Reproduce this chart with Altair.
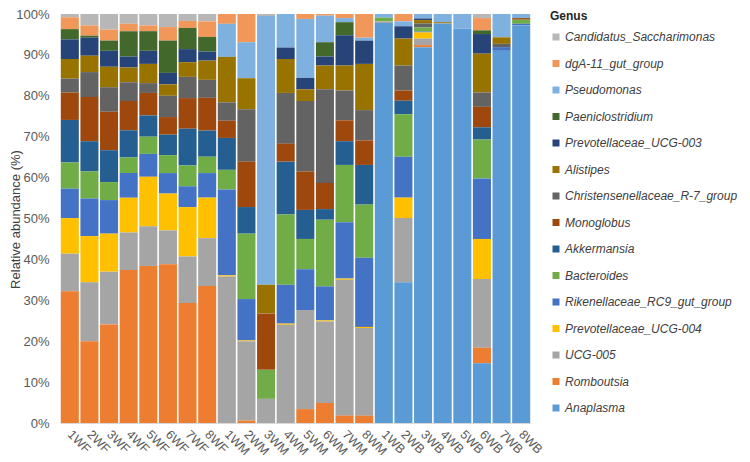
import altair as alt
import pandas as pd

samples = ["1WF", "2WF", "3WF", "4WF", "5WF", "6WF", "7WF", "8WF",
           "1WM", "2WM", "3WM", "4WM", "5WM", "6WM", "7WM", "8WM",
           "1WB", "2WB", "3WB", "4WB", "5WB", "6WB", "7WB", "8WB"]

# legend order (top of stack first)
genera = ["Candidatus_Saccharimonas", "dgA-11_gut_group", "Pseudomonas", "Paeniclostridium",
          "Prevotellaceae_UCG-003", "Alistipes", "Christensenellaceae_R-7_group", "Monoglobus",
          "Akkermansia", "Bacteroides", "Rikenellaceae_RC9_gut_group", "Prevotellaceae_UCG-004",
          "UCG-005", "Romboutsia", "Anaplasma"]

colors = ["#B7B7B7", "#F1975A", "#7EB1DF", "#43682B",
          "#264478", "#997300", "#636363", "#9E480E",
          "#255E91", "#70AD47", "#4472C4", "#FFC000",
          "#A5A5A5", "#ED7D31", "#5B9BD5"]

candidatus = [0.8, 2.8, 3.8, 2.4, 2.8, 3.2, 1.7, 1.8,
              0, 0, 0.5, 0, 0, 0, 0, 0,
              0, 0, 0, 0, 0, 1.0, 0, 0]
dga11 = [2.9, 2.5, 2.7, 1.8, 1.4, 3.3, 1.7, 3.8,
         2.4, 6.9, 0, 0, 1.2, 0.4, 1.0, 5.8,
         0, 1.8, 0, 0, 0, 3.0, 0, 0]
pseudomonas = [0, 0, 0, 0, 0, 0, 0, 0,
               8.1, 8.8, 65.7, 8.2, 14.4, 6.5, 1.0, 0.7,
               0.9, 1.2, 1.1, 2.0, 3.6, 0, 5.7, 1.0]
paeniclostridium = [2.5, 0.5, 2.5, 6.2, 4.8, 7.9, 5.2, 3.6,
                    0, 0, 0, 0, 0, 3.5, 3.2, 0,
                    0, 0, 0, 0, 0, 0.9, 0, 0]
prevotellaceae_003 = [4.8, 4.4, 3.9, 2.7, 3.2, 2.8, 3.2, 2.2,
                      0, 0, 0, 2.8, 2.8, 2.2, 7.4, 5.7,
                      0, 3.0, 0.4, 0, 0, 4.8, 0, 0]
alistipes = [4.8, 4.0, 5.0, 3.6, 4.7, 2.8, 3.6, 4.7,
             11.1, 7.6, 7.0, 8.3, 2.9, 5.8, 6.1, 11.3,
             0, 6.6, 0.8, 0.3, 0, 9.5, 1.6, 0]
christensenellaceae = [3.4, 6.1, 6.0, 4.6, 2.4, 5.2, 5.2, 4.4,
                       4.5, 12.8, 0, 12.4, 17.2, 22.9, 7.3, 7.4,
                       0, 6.1, 1.0, 0, 0, 3.5, 0.8, 0]
monoglobus = [6.7, 10.8, 9.4, 7.1, 5.5, 4.3, 7.5, 8.0,
              4.2, 11.1, 13.8, 4.4, 9.4, 6.4, 5.1, 6.0,
              0, 2.5, 0, 0, 0, 5.0, 0, 0.4]
akkermansia = [10.4, 7.4, 7.8, 6.7, 5.2, 5.0, 9.0, 6.4,
               7.8, 6.5, 0, 12.9, 7.1, 2.6, 5.8, 9.7,
               0, 3.3, 0, 0, 0, 3.0, 0, 0]
bacteroides = [6.4, 6.6, 4.4, 3.8, 4.2, 4.4, 5.1, 4.0,
               4.8, 16.0, 7.1, 17.2, 7.4, 16.3, 14.0, 13.0,
               0.9, 10.4, 1.0, 0, 0, 9.5, 0, 1.0]
rikenellaceae = [7.2, 9.2, 8.2, 6.0, 5.6, 5.0, 5.1, 6.0,
                 21.0, 10.1, 0, 9.5, 10.0, 8.3, 13.8, 16.9,
                 0, 10.0, 0.2, 0, 0, 14.8, 0.9, 0.4]
prevotellaceae_004 = [8.7, 11.3, 9.3, 8.5, 12.1, 9.0, 12.1, 9.9,
                      0.3, 0.2, 0, 0.3, 0, 0.3, 0.3, 0.3,
                      0, 5.0, 1.5, 0, 0, 9.8, 0, 0]
ucg005 = [9.2, 14.4, 12.9, 9.2, 9.7, 8.3, 11.4, 11.7,
          35.8, 19.4, 5.9, 24.0, 24.2, 19.9, 33.2, 21.4,
          0.4, 15.7, 1.6, 0, 0, 16.8, 0, 0]
romboutsia = [32.2, 20.0, 24.1, 37.4, 38.4, 38.8, 29.4, 33.5,
              0, 0.6, 0, 0, 3.4, 4.9, 1.8, 1.8,
              0, 0, 0.5, 0, 0, 3.8, 0, 0]
anaplasma = [0, 0, 0, 0, 0, 0, 0, 0,
             0, 0, 0, 0, 0, 0, 0, 0,
             97.8, 34.4, 91.9, 97.7, 96.4, 14.6, 91.0, 97.2]

series = [candidatus, dga11, pseudomonas, paeniclostridium, prevotellaceae_003, alistipes,
          christensenellaceae, monoglobus, akkermansia, bacteroides, rikenellaceae,
          prevotellaceae_004, ucg005, romboutsia, anaplasma]

rows = []
n = len(genera)
for gi, (g, vals) in enumerate(zip(genera, series)):
    for s, v in zip(samples, vals):
        rows.append({"Sample": s, "Genus": g, "value": v, "order": n - gi})
df = pd.DataFrame(rows)

font = "Liberation Sans"

chart = alt.Chart(df).mark_bar(strokeWidth=0).encode(
    x=alt.X("Sample:N", sort=samples, title=None,
            scale=alt.Scale(paddingInner=0.08, paddingOuter=0.04),
            axis=alt.Axis(labelAngle=45, labelAlign="left", labelBaseline="middle",
                          labelFontSize=12.5, labelColor="#595959",
                          labelFont=font, ticks=False, domainColor="#D9D9D9",
                          labelPadding=9)),
    y=alt.Y("value:Q", stack="normalize", title="Relative abundance (%)",
            axis=alt.Axis(format=".0%", values=[i / 10 for i in range(11)],
                          labelFontSize=13, labelColor="#595959", labelFont=font,
                          ticks=False, domain=False, grid=False,
                          titleFont=font, titleFontSize=13, titleFontWeight="normal",
                          titleColor="#404040", titleX=-45, titleY=205,
                          titleAngle=-90, titleAlign="center", titleBaseline="middle",
                          labelPadding=11)),
    color=alt.Color("Genus:N", sort=genera,
                    scale=alt.Scale(domain=genera, range=colors),
                    legend=alt.Legend(title="Genus", orient="none", legendX=490, legendY=-3,
                                      titleFont=font, titleFontSize=12, titleFontWeight="bold",
                                      titleColor="#262626", titlePadding=8,
                                      labelFont=font, labelFontSize=12, labelFontStyle="italic",
                                      labelColor="#404040", symbolType="square", symbolSize=49,
                                      symbolStrokeWidth=0, rowPadding=14.5, labelOffset=3,
                                      labelLimit=300, padding=0)),
    order=alt.Order("order:Q", sort="ascending"),
).properties(
    width=471, height=409,
    autosize=alt.AutoSizeParams(type="none"),
    padding={"left": 52, "top": 6, "right": 211, "bottom": 39},
).configure_view(stroke=None)

chart.save("out.html", embed_options={"renderer": "svg", "actions": False})
